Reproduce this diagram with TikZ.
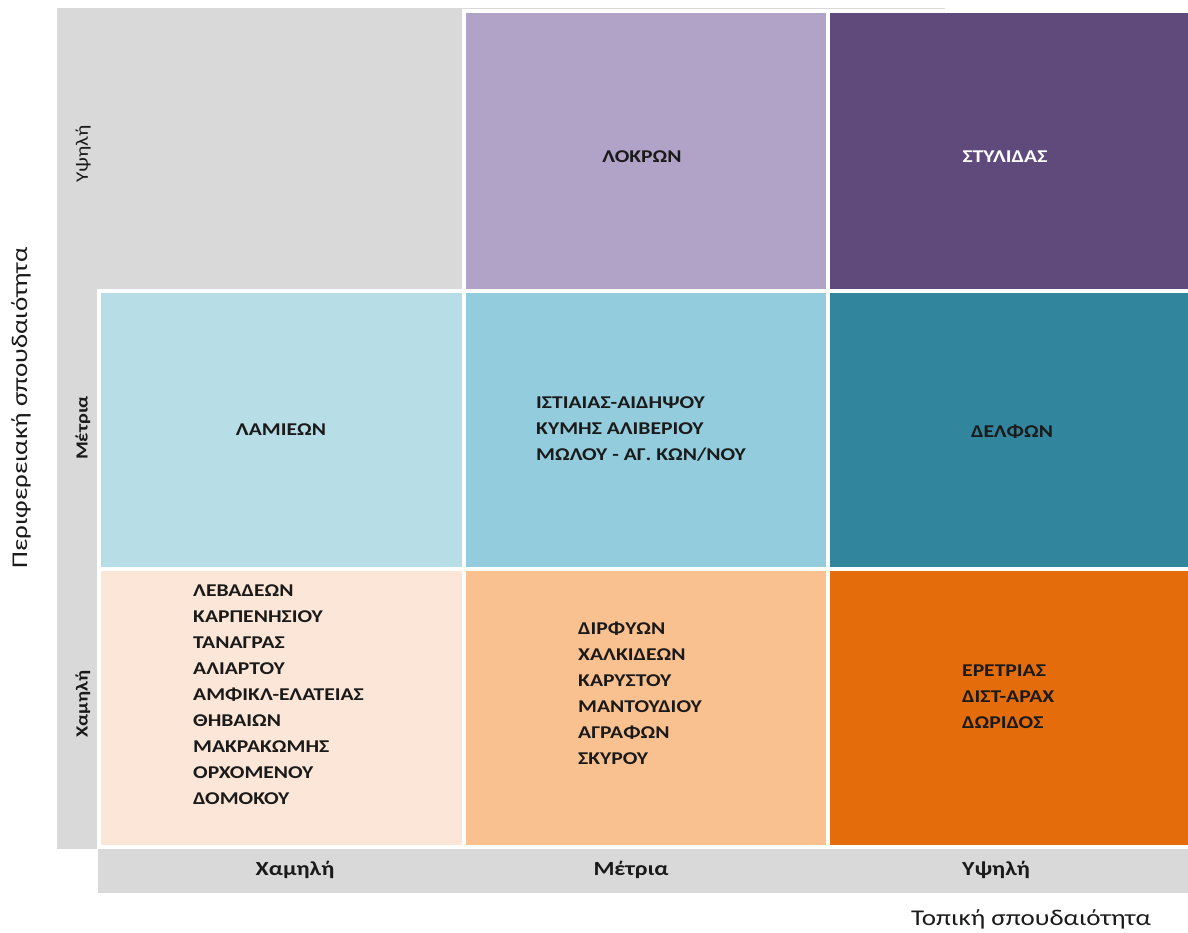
\documentclass[tikz,border=0pt]{standalone}
\usepackage{fontspec}
\setmainfont{Carlito}[FakeStretch=1.2]
\definecolor{bggray}{HTML}{D9D9D9}
\definecolor{purpleL}{HTML}{B1A2C8}
\definecolor{purpleD}{HTML}{5F4A7B}
\definecolor{blueL}{HTML}{B7DDE7}
\definecolor{blueM}{HTML}{93CDDD}
\definecolor{teal}{HTML}{31859C}
\definecolor{peach}{HTML}{FCE6D7}
\definecolor{orangeL}{HTML}{F9C090}
\definecolor{orangeD}{HTML}{E46C0A}
\definecolor{txt}{HTML}{1A1A1A}
\begin{document}
\begin{tikzpicture}[x=1pt,y=-1pt,
  cell/.style={draw=white,line width=3.5pt},
  ctext/.style={font=\fontsize{18}{26}\selectfont\bfseries,text=txt,inner sep=0pt},
  lst/.style={ctext,align=left,anchor=north west},
  axl/.style={font=\fontsize{20}{24}\selectfont\bfseries,text=txt,inner sep=0pt},
  axv/.style={font=\fontsize{17}{20}\selectfont\bfseries,text=txt,inner sep=0pt,rotate=90},
  ttl/.style={font=\fontsize{22.5}{26}\selectfont,text=txt,inner sep=0pt}]
\useasboundingbox (0,0) rectangle (1188,933);
% gray backgrounds
\fill[bggray] (57,8) rectangle (945,849);
\fill[bggray] (98,849) rectangle (1188,893);
% cells
\filldraw[cell,fill=purpleL] (464,11) rectangle (828,291);
\filldraw[cell,fill=purpleD] (828,11) rectangle (1192,291);
\filldraw[cell,fill=blueL] (99,291) rectangle (464,569);
\filldraw[cell,fill=blueM] (464,291) rectangle (828,569);
\filldraw[cell,fill=teal] (828,291) rectangle (1192,569);
\filldraw[cell,fill=peach] (99,569) rectangle (464,847);
\filldraw[cell,fill=orangeL] (464,569) rectangle (828,847);
\filldraw[cell,fill=orangeD] (828,569) rectangle (1192,847);
% cell texts
\node[ctext] (lokron) at (642,157) {ΛΟΚΡΩΝ};
\node[ctext,text=white] (stylidas) at (1005,157) {ΣΤΥΛΙΔΑΣ};
\node[ctext] (lamieon) at (281,430) {ΛΑΜΙΕΩΝ};
\node[lst] (mm) at (536,396) {ΙΣΤΙΑΙΑΣ-ΑΙΔΗΨΟΥ\\ΚΥΜΗΣ ΑΛΙΒΕΡΙΟΥ\\ΜΩΛΟΥ - ΑΓ. ΚΩΝ/ΝΟΥ};
\node[ctext] (delfon) at (1012,432) {ΔΕΛΦΩΝ};
\node[lst] (lb) at (193,584) {ΛΕΒΑΔΕΩΝ\\ΚΑΡΠΕΝΗΣΙΟΥ\\ΤΑΝΑΓΡΑΣ\\ΑΛΙΑΡΤΟΥ\\ΑΜΦΙΚΛ-ΕΛΑΤΕΙΑΣ\\ΘΗΒΑΙΩΝ\\ΜΑΚΡΑΚΩΜΗΣ\\ΟΡΧΟΜΕΝΟΥ\\ΔΟΜΟΚΟΥ};
\node[lst] (mb) at (578,622) {ΔΙΡΦΥΩΝ\\ΧΑΛΚΙΔΕΩΝ\\ΚΑΡΥΣΤΟΥ\\ΜΑΝΤΟΥΔΙΟΥ\\ΑΓΡΑΦΩΝ\\ΣΚΥΡΟΥ};
\node[lst] (hb) at (962,665) {ΕΡΕΤΡΙΑΣ\\ΔΙΣΤ-ΑΡΑΧ\\ΔΩΡΙΔΟΣ};
% axis level labels
\node[axv,font=\fontsize{17.5}{20}\selectfont] (yhigh) at (83,154) {Υψηλή};
\node[axv] (ymid) at (83,428) {Μέτρια};
\node[axv] (ylow) at (83,704) {Χαμηλή};
\node[axl] (xlow) at (295,870) {Χαμηλή};
\node[axl] (xmid) at (631,870) {Μέτρια};
\node[axl] (xhigh) at (996,870) {Υψηλή};
% axis titles
\node[ttl] (xtitle) at (1031,919) {Τοπική σπουδαιότητα};
\node[ttl,rotate=90] (ytitle) at (21,408) {Περιφερειακή σπουδαιότητα};
\end{tikzpicture}
\end{document}
